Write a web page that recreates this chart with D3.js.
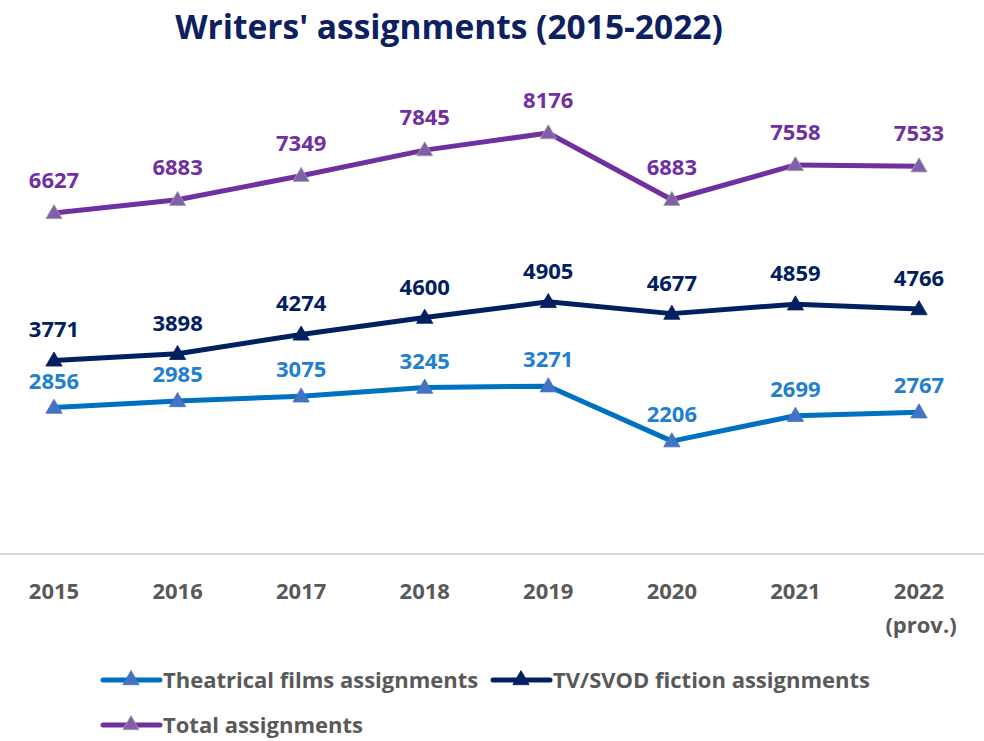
<!DOCTYPE html>
<html><head><meta charset="utf-8">
<script src="https://cdn.jsdelivr.net/npm/d3@7"></script>
<style>body{margin:0;background:#fff}svg{display:block}</style>
</head><body>
<svg id="c" width="984" height="741"></svg>
<script>
const years = ["2015","2016","2017","2018","2019","2020","2021","2022"];
const yearSub = ["","","","","","","","(prov.)"];
const theatrical = [2856,2985,3075,3245,3271,2206,2699,2767];
const tvsvod = [3771,3898,4274,4600,4905,4677,4859,4766];
const total = [6627,6883,7349,7845,8176,6883,7558,7533];
const seriesNames = ["Theatrical films assignments","TV/SVOD fiction assignments","Total assignments"];

const FONT = "'Open Sans', 'DejaVu Sans', sans-serif";
const svg = d3.select("#c");
const x = d3.scalePoint().domain(years).range([54, 919]);
const y = d3.scaleLinear().domain([0, 9000]).range([555, 555 - 9000*0.05161]);

const series = [
  {name: seriesNames[0], values: theatrical, line:"#0070C0", marker:"#4472C4", stroke:"#4472C4", label:"#1F80CF", dy:-27},
  {name: seriesNames[1], values: tvsvod, line:"#002060", marker:"#002060", stroke:"#002060", label:"#002060", dy:-31},
  {name: seriesNames[2], values: total, line:"#7030A0", marker:"#7F5FA8", stroke:"#A5A5A5", label:"#7030A0", dy:-33}
];

// title
svg.append("text").attr("x", 449).attr("y", 39).attr("text-anchor","middle")
  .attr("font-family", FONT).attr("font-weight","bold").attr("font-size", 33.5)
  .attr("fill","#0D2060").text("Writers' assignments (2015-2022)");

// axis
const xAxis = d3.axisBottom(x).tickSize(0).tickPadding(0).tickFormat(()=> "");
const gAx = svg.append("g").attr("transform","translate(0,554)").call(xAxis);
gAx.select(".domain").attr("d","M0,0H984").attr("stroke","#D9D9D9").attr("stroke-width",2);
const tl = svg.append("g");
years.forEach((yr,i)=>{
  tl.append("text").attr("x", x(yr)).attr("y", 599).attr("text-anchor","middle")
    .attr("font-family", FONT).attr("font-weight","bold").attr("font-size",22).attr("fill","#595959").text(yr);
  if (yearSub[i]) {
    tl.append("text").attr("x", x(yr)+2).attr("y", 633).attr("text-anchor","middle")
      .attr("font-family", FONT).attr("font-weight","bold").attr("font-size",22).attr("fill","#595959").text(yearSub[i]);
  }
});

const tri = d3.symbol().type(d3.symbolTriangle).size(115);
const lineGen = d3.line().x((d,i)=>x(years[i])).y(d=>y(d));

series.forEach(s=>{
  const g = svg.append("g");
  g.append("path").datum(s.values).attr("d", lineGen).attr("fill","none")
    .attr("stroke", s.line).attr("stroke-width",5).attr("stroke-linejoin","round");
  g.selectAll("path.m").data(s.values).enter().append("path").attr("class","m")
    .attr("d", tri).attr("transform",(d,i)=>`translate(${x(years[i])},${y(d)+1})`)
    .attr("fill", s.marker).attr("stroke", s.stroke).attr("stroke-width",0.8);
  g.selectAll("text").data(s.values).enter().append("text")
    .attr("x",(d,i)=>x(years[i])).attr("y",(d,i)=>y(d)+s.dy+8)
    .attr("text-anchor","middle").attr("font-family",FONT).attr("font-weight","bold")
    .attr("font-size",22).attr("fill", s.label).text(d=>d);
});

// legend
const legPos = [[103,680],[493,680],[103,725]];
series.forEach((s,i)=>{
  const [lx,ly] = legPos[i];
  const g = svg.append("g").attr("transform",`translate(${lx},${ly})`);
  g.append("line").attr("x1",0).attr("x2",57).attr("y1",0).attr("y2",0)
    .attr("stroke", s.line).attr("stroke-width",5).attr("stroke-linecap","round");
  g.append("path").attr("d", tri).attr("transform","translate(28,0)")
    .attr("fill", s.marker).attr("stroke", s.stroke).attr("stroke-width",0.8);
  g.append("text").attr("x",60).attr("y",8).attr("font-family",FONT).attr("font-weight","bold")
    .attr("font-size",22).attr("fill","#595959").text(s.name);
});
</script>
</body></html>
